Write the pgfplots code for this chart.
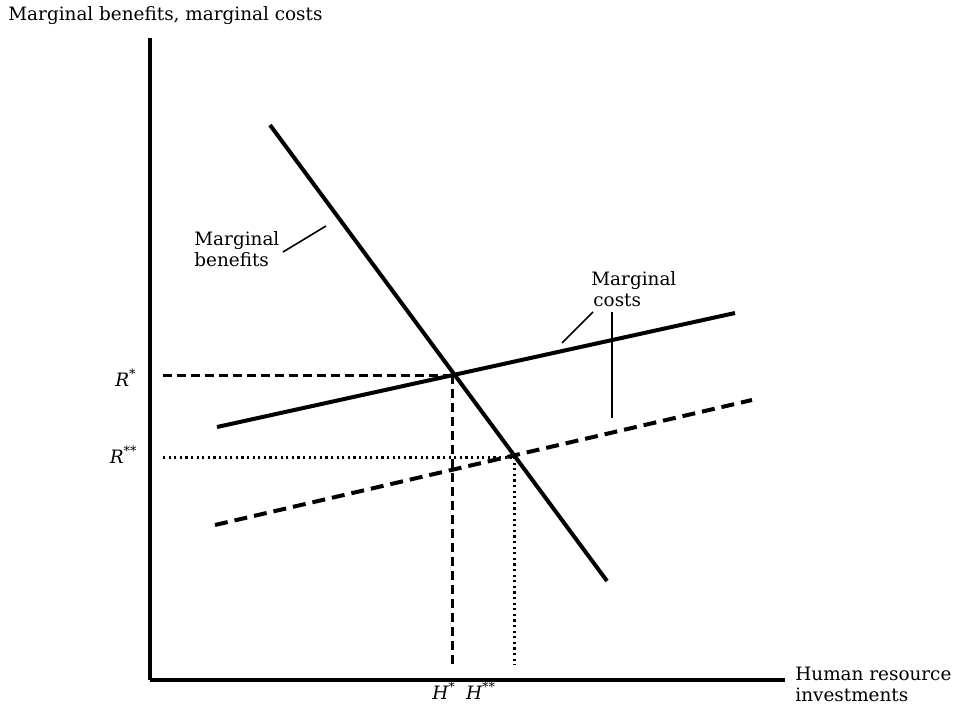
\documentclass[border=0pt]{standalone}
\usepackage{fontspec}
\setmainfont{DejaVu Serif}
\usepackage{pgfplots}
\pgfplotsset{compat=1.18}
\begin{document}
\begin{tikzpicture}
\begin{axis}[
  x=0.5pt, y=0.5pt,
  xmin=150, xmax=785, ymin=29, ymax=671,
  axis lines=left,
  axis line style={-, line width=2pt, black},
  xtick=\empty, ytick=\empty,
  clip=false,
  font=\fontsize{9.2}{10.5}\selectfont,
]
\path (axis cs:0,0) rectangle (axis cs:963,709);
% marginal benefits
\addplot[black, line width=2pt, no marks] coordinates {(270,584) (607,128)};
% marginal costs solid
\addplot[black, line width=2pt, no marks] coordinates {(217,282) (735,396)};
% marginal costs dashed
\addplot[black, line width=2pt, no marks, dash pattern=on 6.5pt off 3.5pt] coordinates {(215,184) (752,309)};
% R* and H* dashed
\addplot[black, line width=1.5pt, no marks, dash pattern=on 4.5pt off 2.5pt] coordinates {(163,334) (452,334)};
\addplot[black, line width=1.5pt, no marks, dash pattern=on 4.5pt off 2.5pt] coordinates {(452,334) (452,44)};
% R** and H** dotted
\addplot[black, line width=1.5pt, no marks, dash pattern=on 1.1pt off 1.7pt] coordinates {(163,252) (514,252)};
\addplot[black, line width=1.5pt, no marks, dash pattern=on 1.1pt off 1.7pt] coordinates {(514,252) (514,44)};
% pointers
\addplot[black, line width=0.8pt, no marks] coordinates {(283,457) (326,483)};
\addplot[black, line width=0.8pt, no marks] coordinates {(562,366) (593,397)};
\addplot[black, line width=0.8pt, no marks] coordinates {(612,397) (612,291)};
% labels
\node[anchor=base west, inner sep=0pt] at (axis cs:8,689) {Marginal benefits, marginal costs};
\node[anchor=west, align=left, inner sep=0pt] at (axis cs:194,460) {Marginal\\benefits};
\node[anchor=west, align=left, inner sep=0pt] at (axis cs:591,420) {Marginal\\\hspace*{1pt}costs};
\node[anchor=west, align=left, inner sep=0pt] at (axis cs:795,25) {Human resource\\investments};
\node[anchor=east, inner sep=0pt] at (axis cs:137,331) {\itshape R\textsuperscript{*}};
\node[anchor=east, inner sep=0pt] at (axis cs:138,254) {\itshape R\textsuperscript{**}};
\node[anchor=center, inner sep=0pt] at (axis cs:444,18) {\itshape H\textsuperscript{*}};
\node[anchor=center, inner sep=0pt] at (axis cs:481,18) {\itshape H\textsuperscript{**}};
\end{axis}
\end{tikzpicture}
\end{document}
